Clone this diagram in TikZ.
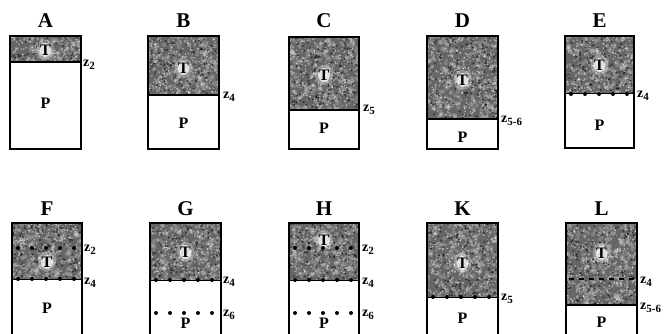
\documentclass[tikz,border=0pt]{standalone}
\usepackage{fontspec}
\setmainfont{Liberation Serif}
\tikzset{
  frame/.style={line width=1.6pt, black},
  title/.style={font=\bfseries\fontsize{21}{21}\selectfont, inner sep=0pt},
  zone/.style={font=\bfseries\fontsize{16}{16}\selectfont, inner sep=0pt},
  depth/.style={font=\bfseries\fontsize{14}{14}\selectfont, inner sep=0pt, anchor=west},
  dotrow/.style={line width=4pt, line cap=round, dash pattern=on 0pt off 14pt, dash phase=-6pt},
  dashrow/.style={line width=2.4pt, dash pattern=on 5pt off 5pt, dash phase=-3pt},
}
% depth label: bold z with a lowered index
\newcommand\zlab[1]{z\raisebox{-0.45ex}{\fontsize{11}{11}\selectfont #1}}
% stippled tile: #1 left, #2 right, #3 top, #4 lower edge of the stipple
\newcommand\stipple[4]{%
  \fill[black!60] (#1,#3) rectangle (#2,#4);
  \pgfmathtruncatemacro\nsoft{(#2-#1)*(#4-#3)/30}%
  \pgfmathtruncatemacro\nlight{(#2-#1)*(#4-#3)/14}%
  \pgfmathtruncatemacro\ndark{(#2-#1)*(#4-#3)/35}%
  \begin{scope}
  \clip (#1,#3) rectangle (#2,#4);
  \foreach \k in {1,...,\nsoft}{%
    \pgfmathsetmacro\px{#1+rnd*(#2-#1)}%
    \pgfmathsetmacro\py{#3+rnd*(#4-#3)}%
    \fill[white,opacity=.18] (\px,\py) circle (2.2);
  }%
  \foreach \k in {1,...,\nlight}{%
    \pgfmathsetmacro\px{#1+rnd*(#2-#1)}%
    \pgfmathsetmacro\py{#3+rnd*(#4-#3)}%
    \fill[white,opacity=.45] (\px,\py) circle (0.9);
  }%
  \foreach \k in {1,...,\ndark}{%
    \pgfmathsetmacro\px{#1+rnd*(#2-#1)}%
    \pgfmathsetmacro\py{#3+rnd*(#4-#3)}%
    \fill[black,opacity=.5] (\px,\py) circle (1.1);
  }%
  \end{scope}
}
% pale patch under a T
\newcommand\halo[2]{%
  \fill[white,opacity=.3] (#1,#2) ellipse (9 and 10);
  \fill[white,opacity=.7] (#1,#2) ellipse (6 and 7);
}
\begin{document}
\begin{tikzpicture}[x=1pt,y=-1pt]
\pgfmathsetseed{4711}
\useasboundingbox (0,0) rectangle (669,334);
\fill[white] (0,0) rectangle (669,334);
\begin{scope}
\clip (0,0) rectangle (669,334);

% ---------- top row ----------
% A
\stipple{10}{81}{36}{62}
\halo{45.5}{50}
\draw[frame] (10,36) rectangle (81,149);
\draw[frame] (10,62) -- (81,62);
\node[title] (labA) at (45.5,21) {A};
\node[zone] (tA) at (45.5,50) {T};
\node[zone] (pA) at (45.5,103) {P};
\node[depth] (zA) at (83,65) {\zlab{2}};

% B
\stipple{148}{219}{36}{95}
\halo{183.5}{68}
\draw[frame] (148,36) rectangle (219,149);
\draw[frame] (148,95) -- (219,95);
\node[title] (labB) at (183.5,21) {B};
\node[zone] (tB) at (183.5,68) {T};
\node[zone] (pB) at (183.5,123) {P};
\node[depth] (zB) at (223,97) {\zlab{4}};

% C
\stipple{289}{359}{37}{110}
\halo{324}{75}
\draw[frame] (289,37) rectangle (359,149);
\draw[frame] (289,110) -- (359,110);
\node[title] (labC) at (324,21) {C};
\node[zone] (tC) at (324,75) {T};
\node[zone] (pC) at (324,128) {P};
\node[depth] (zC) at (363,110) {\zlab{5}};

% D
\stipple{427}{498}{36}{119}
\halo{462.5}{80}
\draw[frame] (427,36) rectangle (498,149);
\draw[frame] (427,119) -- (498,119);
\node[title] (labD) at (462.5,21) {D};
\node[zone] (tD) at (462.5,80) {T};
\node[zone] (pD) at (462.5,137) {P};
\node[depth] (zD) at (501,121) {\zlab{5-6}};

% E
\stipple{565}{634}{36}{94}
\halo{599.5}{65}
\draw[frame] (565,36) rectangle (634,148);
\draw[line width=1pt] (565,94) -- (634,94);
\draw[dotrow] (565,94) -- (634,94);
\node[title] (labE) at (599.5,21) {E};
\node[zone] (tE) at (599.5,65) {T};
\node[zone] (pE) at (599.5,125) {P};
\node[depth] (zE) at (637,96) {\zlab{4}};

% ---------- bottom row ----------
% F
\stipple{12}{82}{223}{279}
\halo{47}{262}
\draw[dotrow] (12,248) -- (82,248);
\draw[line width=1pt] (12,279) -- (82,279);
\draw[dotrow] (12,279) -- (82,279);
\draw[frame] (12,345) -- (12,223) -- (82,223) -- (82,345);
\node[title] (labF) at (47,209) {F};
\node[zone] (tF) at (47,262) {T};
\node[zone] (pF) at (47,308) {P};
\node[depth] (zF2) at (84,250) {\zlab{2}};
\node[depth] (zF4) at (84,283) {\zlab{4}};

% G
\stipple{150}{221}{223}{280}
\halo{185.5}{252}
\draw[line width=1pt] (150,280) -- (221,280);
\draw[dotrow] (150,280) -- (221,280);
\draw[dotrow] (150,313) -- (221,313);
\draw[frame] (150,345) -- (150,223) -- (221,223) -- (221,345);
\node[title] (labG) at (185.5,209) {G};
\node[zone] (tG) at (185.5,252) {T};
\node[zone] (pG) at (185.5,323) {P};
\node[depth] (zG4) at (223,282) {\zlab{4}};
\node[depth] (zG6) at (223,315) {\zlab{6}};

% H
\stipple{289}{359}{223}{280}
\halo{324}{240}
\draw[dotrow] (289,248) -- (359,248);
\draw[line width=1pt] (289,280) -- (359,280);
\draw[dotrow] (289,280) -- (359,280);
\draw[dotrow] (289,313) -- (359,313);
\draw[frame] (289,345) -- (289,223) -- (359,223) -- (359,345);
\node[title] (labH) at (324,209) {H};
\node[zone] (tH) at (324,240) {T};
\node[zone] (pH) at (324,323) {P};
\node[depth] (zH2) at (362,250) {\zlab{2}};
\node[depth] (zH4) at (362,283) {\zlab{4}};
\node[depth] (zH6) at (362,315) {\zlab{6}};

% K
\stipple{427}{498}{223}{297}
\halo{462.5}{263}
\draw[line width=1pt] (427,297) -- (498,297);
\draw[dotrow] (427,297) -- (498,297);
\draw[frame] (427,345) -- (427,223) -- (498,223) -- (498,345);
\node[title] (labK) at (462.5,209) {K};
\node[zone] (tK) at (462.5,263) {T};
\node[zone] (pK) at (462.5,318) {P};
\node[depth] (zK) at (501,299) {\zlab{5}};

% L
\stipple{566}{637}{223}{305}
\halo{601.5}{253}
\draw[dashrow] (566,279) -- (637,279);
\draw[frame] (566,305) -- (637,305);
\draw[frame] (566,345) -- (566,223) -- (637,223) -- (637,345);
\node[title] (labL) at (601.5,209) {L};
\node[zone] (tL) at (601.5,253) {T};
\node[zone] (pL) at (601.5,322) {P};
\node[depth] (zL4) at (640,282) {\zlab{4}};
\node[depth] (zL5) at (640,308) {\zlab{5-6}};
\end{scope}
\end{tikzpicture}
\end{document}
